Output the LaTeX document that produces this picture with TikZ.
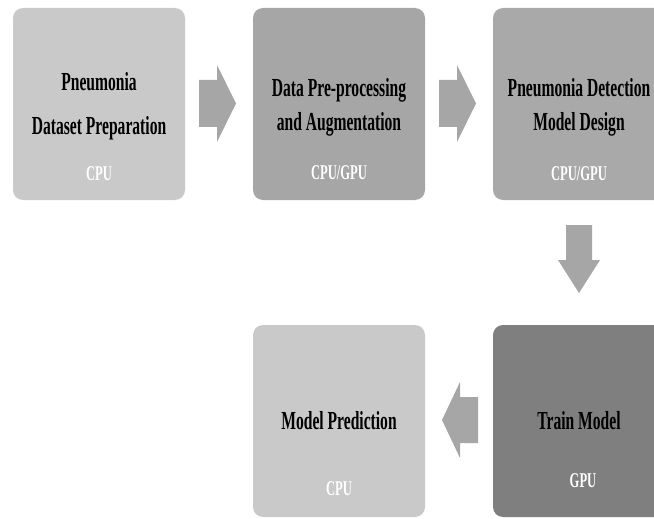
\documentclass[tikz,border=0pt]{standalone}
\usepackage{fontspec}
\setmainfont[FakeStretch=0.6]{Liberation Serif}
\definecolor{lightbox}{HTML}{C9C9C9}
\definecolor{midbox}{HTML}{A6A6A6}
\definecolor{midboxb}{HTML}{A9A9A9}
\definecolor{darkbox}{HTML}{7F7F7F}
\definecolor{arrowgray}{HTML}{A6A6A6}
\tikzset{
  stagebox/.style={rounded corners=10pt, minimum width=172pt, minimum height=192pt, inner sep=0pt, draw=none},
  titletext/.style={anchor=base, inner sep=0pt, font=\bfseries\fontsize{26}{30}\selectfont, text=black},
  hwtext/.style={anchor=base, inner sep=0pt, font=\bfseries\fontsize{21}{25}\selectfont, text=white},
  blockarrow/.style={fill=arrowgray, draw=none}
}
\begin{document}
\begin{tikzpicture}[x=1pt, y=-1pt]
\useasboundingbox[fill=white] (0,0) rectangle (654,519);
% boxes
\node[stagebox, fill=lightbox] (prep) at (99,104) {};
\node[stagebox, fill=midbox] (aug) at (339,104) {};
\node[stagebox, fill=midboxb] (design) at (579,104) {};
\node[stagebox, fill=darkbox] (train) at (579,421) {};
\node[stagebox, fill=lightbox] (pred) at (339,421) {};
% texts
\node[titletext] (prepA) at (99,91) {Pneumonia};
\node[titletext] (prepB) at (99,135) {Dataset Preparation};
\node[hwtext] (prepC) at (99,180) {CPU};
\node[titletext] (augA) at (339,97) {Data Pre-processing};
\node[titletext] (augB) at (339,131) {and Augmentation};
\node[hwtext] (augC) at (339,179) {CPU/GPU};
\node[titletext] (desA) at (579,96) {Pneumonia Detection};
\node[titletext] (desB) at (579,131) {Model Design};
\node[hwtext] (desC) at (579,180) {CPU/GPU};
\node[titletext] (trA) at (579,429) {Train Model};
\node[hwtext] (trC) at (583,487) {GPU};
\node[titletext] (prA) at (339,429) {Model Prediction};
\node[hwtext] (prC) at (339,495) {CPU};
% block arrows
\fill[blockarrow] (199,80) -- (217,80) -- (217,65) -- (236,103.5) -- (217,142) -- (217,127) -- (199,127) -- cycle;
\fill[blockarrow] (439,80) -- (457,80) -- (457,65) -- (476,103.5) -- (457,142) -- (457,127) -- (439,127) -- cycle;
\fill[blockarrow] (566,225) -- (592,225) -- (592,260) -- (600,260) -- (579,293) -- (558,260) -- (566,260) -- cycle;
\fill[blockarrow] (478,397) -- (460,397) -- (460,382) -- (442,420) -- (460,458) -- (460,443) -- (478,443) -- cycle;
\end{tikzpicture}
\end{document}
